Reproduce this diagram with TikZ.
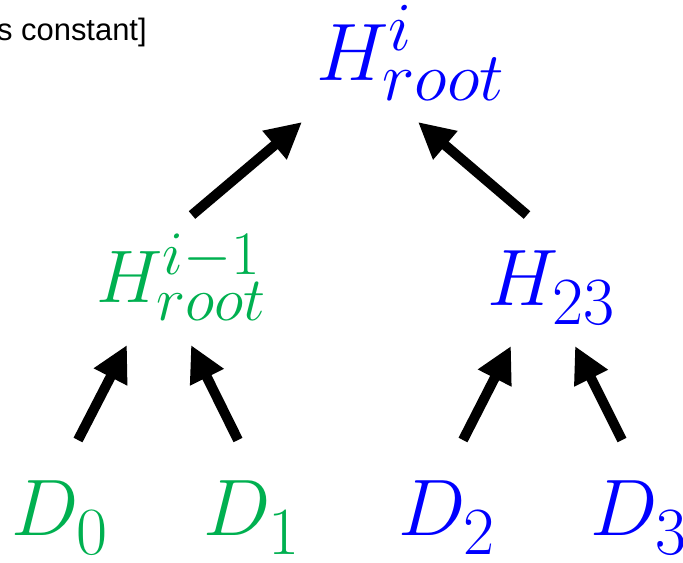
\RequirePackage{fix-cm}
\documentclass[tikz,border=0pt]{standalone}
\usepackage[no-math]{fontspec}
\newfontfamily\notefont{Liberation Sans}
\usetikzlibrary{arrows.meta}
\DeclareMathSizes{57}{57}{48}{36}
\DeclareMathSizes{58}{58}{49}{37}
\DeclareMathSizes{53}{53}{44}{33}
\newcommand\lowsub[1]{\lower5pt\hbox{$\scriptstyle #1$}}
\definecolor{treegreen}{RGB}{0,176,80}
\definecolor{treeblue}{RGB}{0,0,255}
\tikzset{lbl/.style={inner sep=0pt, anchor=base west, font=\fontsize{57}{57}\selectfont},
lbl_g/.style={lbl, text=treegreen},
lbl_b/.style={lbl, text=treeblue},
flow/.style={-{Triangle[length=9mm, width=8.8mm]}, line width=2.5mm}}
\begin{document}
\begin{tikzpicture}[x=0.025cm, y=-0.025cm]
  \useasboundingbox (0,0) rectangle (683,562);
  \node[anchor=base east, inner sep=0pt, font=\notefont\fontsize{22}{22}\selectfont] (note) at (147,40) {s constant]};
  \node[lbl_b, font=\fontsize{58}{58}\selectfont] (root) at (316,80) {$H^{i}_{root}$};
  \node[lbl_g, font=\fontsize{53}{53}\selectfont] (h01) at (96,302) {$H^{i-1}_{root}$};
  \node[lbl_b] (h23) at (487,305) {$H_{\lowsub{23}}$};
  \node[lbl_g] (d0) at (11,535) {$D_{\lowsub{0}}$};
  \node[lbl_g] (d1) at (203,535) {$D_{\lowsub{1}}$};
  \node[lbl_b] (d2) at (398,535) {$D_{\lowsub{2}}$};
  \node[lbl_b] (d3) at (590,535) {$D_{\lowsub{3}}$};
  % arrow ends
  \coordinate (t01) at (192,215);
  \coordinate (r01) at (302,122);
  \coordinate (t23) at (527,215);
  \coordinate (r23) at (418,122);
  \coordinate (t0) at (78,440);
  \coordinate (h0) at (127,345);
  \coordinate (t1) at (238,440);
  \coordinate (h1) at (191,345);
  \coordinate (t2) at (463,440);
  \coordinate (h2) at (511,346);
  \coordinate (t3) at (622,440);
  \coordinate (h3) at (575,346);
  \draw[flow] (t01) -- (r01);
  \draw[flow] (t23) -- (r23);
  \draw[flow] (t0) -- (h0);
  \draw[flow] (t1) -- (h1);
  \draw[flow] (t2) -- (h2);
  \draw[flow] (t3) -- (h3);
\end{tikzpicture}
\end{document}
